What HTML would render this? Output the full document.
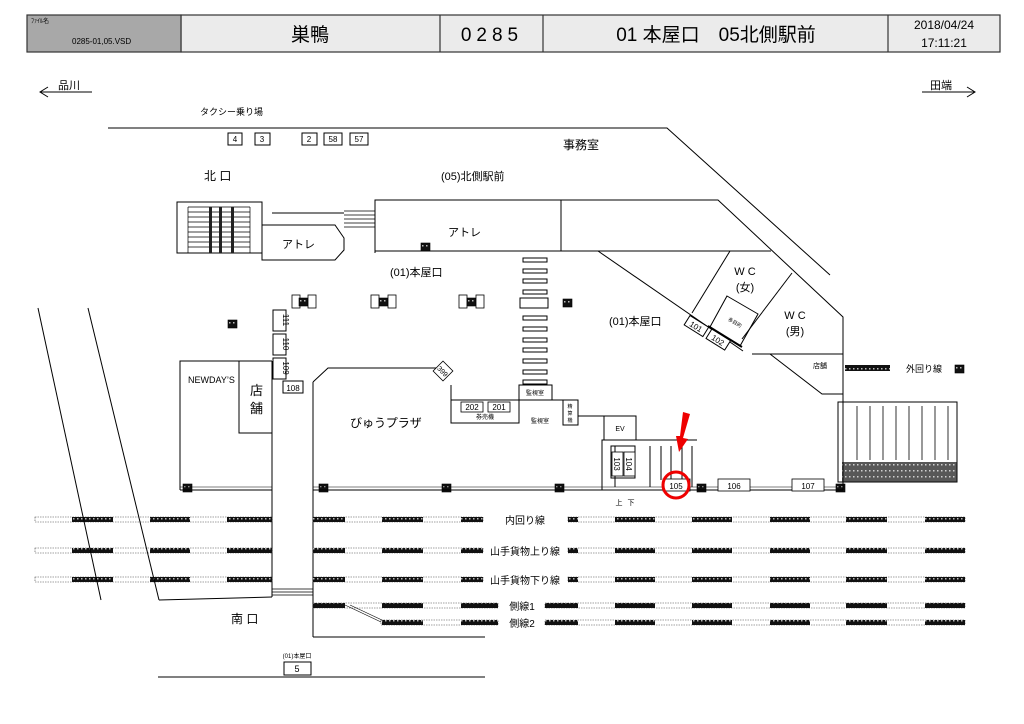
<!DOCTYPE html>
<html><head><meta charset="utf-8"><style>
html,body{margin:0;padding:0;background:#fff;}
svg{display:block;font-family:"Liberation Sans","Noto Sans CJK JP",sans-serif;}
</style></head><body>
<svg width="1024" height="724" viewBox="0 0 1024 724" xmlns="http://www.w3.org/2000/svg">
<defs>
<pattern id="hat" width="4" height="6" patternUnits="userSpaceOnUse"><rect width="4" height="6" fill="#111"/><rect x="1" y="2" width="1.5" height="1.5" fill="#bbb"/></pattern>
<g id="blk"><rect width="9" height="8" fill="url(#hat)" stroke="#000" stroke-width="0.6"/></g>
</defs>
<!-- header -->
<g stroke="#333" stroke-width="1.2">
<rect x="181" y="15" width="819" height="37" fill="#ebebeb"/>
<rect x="27" y="15" width="154" height="37" fill="#a8a8a8"/>
<line x1="440" y1="15" x2="440" y2="52"/><line x1="543" y1="15" x2="543" y2="52"/><line x1="888" y1="15" x2="888" y2="52"/>
</g>
<text x="31" y="23" font-size="6">ﾌｧｲﾙ名</text>
<text x="72" y="44" font-size="8">0285-01,05.VSD</text>
<text x="310" y="41" font-size="19" text-anchor="middle">巣鴨</text>
<text x="492" y="41" font-size="19" text-anchor="middle" letter-spacing="5">0285</text>
<text x="716" y="41" font-size="19" text-anchor="middle">01 本屋口　05北側駅前</text>
<text x="944" y="29" font-size="12" text-anchor="middle">2018/04/24</text>
<text x="944" y="47" font-size="12" text-anchor="middle">17:11:21</text>
<!-- direction -->
<g stroke="#000" stroke-width="1" fill="none">
<line x1="40" y1="92" x2="92" y2="92"/><polyline points="48,87 40,92 48,97"/>
<line x1="922" y1="92" x2="975" y2="92"/><polyline points="967,87 975,92 967,97"/>
</g>
<text x="58" y="89" font-size="11">品川</text>
<text x="930" y="89" font-size="11">田端</text>
<text x="200" y="115" font-size="9">タクシー乗り場</text>
<g stroke="#000" stroke-width="1" fill="none">
<polyline points="108,128 667,128 830,275"/>
<rect x="228" y="133" width="14" height="12"/><rect x="255" y="133" width="15" height="12"/>
<rect x="302" y="133" width="15" height="12"/><rect x="324" y="133" width="18" height="12"/><rect x="350" y="133" width="18" height="12"/>
</g>
<g font-size="8" text-anchor="middle"><text x="235" y="142">4</text><text x="262" y="142">3</text><text x="309" y="142">2</text><text x="333" y="142">58</text><text x="359" y="142">57</text></g>
<text x="563" y="149" font-size="12">事務室</text>
<text x="204" y="180" font-size="12">北 口</text>
<text x="441" y="180" font-size="11">(05)北側駅前</text>
<!-- north stair building -->
<g stroke="#000" stroke-width="1" fill="none">
<rect x="177" y="202" width="85" height="51"/>
<path d="M188 207H250M188 212H250M188 217H250M188 222H250M188 227H250M188 232H250M188 237H250M188 242H250M188 247H250M188 207V253M250 207V253" stroke-width="0.7"/>
<polygon points="262,225 335,225 344,238 344,250 335,260 262,260"/>
<line x1="272" y1="213" x2="344" y2="213"/>
<path d="M344 211H375M344 215H375M344 219H375M344 223H375M344 227H375" stroke-width="0.7"/>
<polyline points="375,253 375,200 718,200 843,317 843,400"/>
<line x1="375" y1="251" x2="771" y2="251"/>
<line x1="561" y1="200" x2="561" y2="251"/>
<line x1="598" y1="251" x2="743" y2="351"/>
<line x1="730" y1="251" x2="692" y2="313"/>
<line x1="792" y1="273" x2="742" y2="339"/>
<polygon points="727,296 758,314 740,346 710,327"/>
<line x1="752" y1="354" x2="843" y2="354"/>
<polyline points="770,354 822,394 843,394"/>
</g>
<rect x="209" y="207" width="3" height="46" fill="#222"/><rect x="219" y="207" width="3" height="46" fill="#222"/><rect x="231" y="207" width="3" height="46" fill="#222"/>
<text x="282" y="248" font-size="11">アトレ</text>
<text x="448" y="236" font-size="11">アトレ</text>
<text x="390" y="276" font-size="11">(01)本屋口</text>
<text x="609" y="325" font-size="11">(01)本屋口</text>
<text x="745" y="275" font-size="11" text-anchor="middle">W C</text><text x="745" y="291" font-size="11" text-anchor="middle">(女)</text>
<text x="795" y="319" font-size="11" text-anchor="middle">W C</text><text x="795" y="335" font-size="11" text-anchor="middle">(男)</text>
<text x="734" y="324" font-size="5" transform="rotate(30 734 324)" text-anchor="middle">多目的</text>
<text x="820" y="368" font-size="7" text-anchor="middle">店舗</text>
<g transform="rotate(32 697 327)"><rect x="685" y="321" width="22" height="11" fill="#fff" stroke="#000"/><text x="696" y="330" font-size="8" text-anchor="middle">101</text></g>
<g transform="rotate(32 718 340)"><rect x="707" y="334" width="22" height="11" fill="#fff" stroke="#000"/><text x="718" y="343" font-size="8" text-anchor="middle">102</text></g>
<line x1="708" y1="326" x2="742" y2="347" stroke="#000" stroke-width="2"/>
<!-- blocks -->
<use href="#blk" x="421" y="243"/><use href="#blk" x="563" y="299"/><use href="#blk" x="228" y="320"/>
<use href="#blk" x="183" y="484"/><use href="#blk" x="319" y="484"/><use href="#blk" x="442" y="484"/><use href="#blk" x="555" y="484"/>
<use href="#blk" x="697" y="484"/><use href="#blk" x="836" y="484"/><use href="#blk" x="955" y="365"/>
<!-- gate pairs -->
<g stroke="#000" stroke-width="0.8" font-size="6">
<g><rect x="292" y="295" width="8" height="13" fill="#fff"/><use href="#blk" x="299" y="298"/><rect x="308" y="295" width="8" height="13" fill="#fff"/></g>
<g><rect x="371" y="295" width="8" height="13" fill="#fff"/><use href="#blk" x="379" y="298"/><rect x="388" y="295" width="8" height="13" fill="#fff"/></g>
<g><rect x="459" y="295" width="8" height="13" fill="#fff"/><use href="#blk" x="467" y="298"/><rect x="476" y="295" width="8" height="13" fill="#fff"/></g>
</g>
<!-- crosswalk -->
<g stroke="#000" stroke-width="1" fill="none">
<rect x="523" y="258" width="24" height="4"/><rect x="523" y="269" width="24" height="4"/><rect x="523" y="279" width="24" height="4"/><rect x="523" y="290" width="24" height="4"/>
<rect x="520" y="298" width="28" height="10"/>
<rect x="523" y="316" width="24" height="4"/><rect x="523" y="327" width="24" height="4"/><rect x="523" y="338" width="24" height="4"/><rect x="523" y="348" width="24" height="4"/><rect x="523" y="359" width="24" height="4"/><rect x="523" y="370" width="24" height="4"/><rect x="523" y="380" width="24" height="4"/>
</g>
<!-- 109-111 -->
<g stroke="#000" stroke-width="1" fill="#fff">
<rect x="273" y="310" width="13" height="21"/><rect x="273" y="334" width="13" height="21"/><rect x="273" y="358" width="13" height="21"/><rect x="283" y="381" width="20" height="12"/>
</g>
<g font-size="8" text-anchor="middle">
<text transform="translate(283,320) rotate(90)">111</text><text transform="translate(283,344) rotate(90)">110</text><text transform="translate(283,368) rotate(90)">109</text><text x="293" y="391">108</text>
</g>
<!-- NEWDAYS and concourse -->
<g stroke="#000" stroke-width="1" fill="none">
<polyline points="180,490 180,361 272,361"/>
<polyline points="239,361 239,433 272,433"/>
<line x1="272" y1="361" x2="272" y2="597"/>
<line x1="313" y1="637" x2="313" y2="382"/>
<polyline points="313,382 328,368 438,368"/>
<polyline points="451,385 451,423 519,423 519,400"/>
<line x1="451" y1="400" x2="563" y2="400"/>
<rect x="519" y="385" width="33" height="15"/>
<rect x="563" y="400" width="15" height="25"/>
<line x1="578" y1="416" x2="604" y2="416"/>
<rect x="604" y="416" width="32" height="24"/>
<polyline points="602,490 602,440 697,440"/>
<line x1="615" y1="446" x2="615" y2="487"/><line x1="650" y1="446" x2="650" y2="487"/><line x1="661" y1="446" x2="661" y2="480"/><line x1="671" y1="446" x2="671" y2="480"/><line x1="682" y1="446" x2="682" y2="480"/><line x1="692" y1="446" x2="692" y2="487"/>
<rect x="611" y="446" width="24" height="32"/>
<line x1="180" y1="490" x2="272" y2="490"/><line x1="313" y1="490" x2="843" y2="490"/>
<line x1="180" y1="487" x2="272" y2="487" stroke-width="0.6"/><line x1="313" y1="487" x2="843" y2="487" stroke-width="0.6"/>
<rect x="838" y="402" width="119" height="80"/>
<path d="M857 406V460M870 406V460M883 406V460M896 406V460M909 406V460M922 406V460M935 406V460M948 406V460" stroke-width="0.8"/>
<line x1="843" y1="394" x2="843" y2="490"/>
</g>
<rect x="842" y="462" width="115" height="20" fill="url(#hat)" opacity="0.7"/>
<rect x="845" y="365" width="45" height="6" fill="url(#hat)"/>
<text x="906" y="372" font-size="9">外回り線</text>
<g stroke="#000" stroke-width="0.8" fill="#fff">
<rect x="612" y="452" width="11" height="24"/><rect x="624" y="452" width="11" height="24"/>
<rect x="663" y="479" width="27" height="12"/><rect x="718" y="479" width="32" height="12"/><rect x="792" y="479" width="32" height="12"/>
<rect x="461" y="402" width="22" height="10"/><rect x="488" y="402" width="22" height="10"/>
<rect x="436" y="364" width="14" height="14" transform="rotate(45 443 371)"/>
</g>
<g font-size="8" text-anchor="middle">
<text transform="translate(614,464) rotate(90)">103</text><text transform="translate(626,464) rotate(90)">104</text>
<text x="676" y="489">105</text><text x="734" y="489">106</text><text x="808" y="489">107</text>
<text x="472" y="410">202</text><text x="499" y="410">201</text>
<text x="443" y="374" font-size="7" transform="rotate(45 443 371)">399</text>
<text x="485" y="419" font-size="6">券売機</text>
<text x="535" y="395" font-size="6">監視室</text>
<text x="540" y="423" font-size="6">監視室</text>
<text x="570" y="408" font-size="5">精</text><text x="570" y="415" font-size="5">算</text><text x="570" y="422" font-size="5">機</text>
<text x="620" y="431" font-size="7">EV</text>
<text x="619" y="505" font-size="7">上</text><text x="631" y="505" font-size="7">下</text>
</g>
<text x="188" y="383" font-size="9">NEWDAY’S</text>
<text x="250" y="395" font-size="13">店</text><text x="250" y="413" font-size="13">舗</text>
<text x="350" y="427" font-size="12">びゅうプラザ</text>
<!-- red marker -->
<polygon points="683,412 690,414 683,438 688,439 679,452 676,436 680,436" fill="#e00"/>
<circle cx="676" cy="485" r="13" fill="none" stroke="#e00" stroke-width="3"/>
<!-- tracks -->
<g id="tr" stroke="#444" stroke-width="0.6" stroke-dasharray="1.5,1" fill="none">
<rect x="35" y="517" width="237" height="5"/><rect x="313" y="517" width="170" height="5"/><rect x="568" y="517" width="397" height="5"/>
<rect x="35" y="548" width="237" height="5"/><rect x="313" y="548" width="170" height="5"/><rect x="568" y="548" width="397" height="5"/>
<rect x="35" y="577" width="237" height="5"/><rect x="313" y="577" width="170" height="5"/><rect x="568" y="577" width="397" height="5"/>
<rect x="313" y="603" width="185" height="5"/><rect x="545" y="603" width="420" height="5"/>
<rect x="381" y="620" width="117" height="5"/><rect x="545" y="620" width="420" height="5"/>
</g>
<g fill="url(#hat)">
<path d="M72 517h41v5h-41zM150 517h40v5h-40zM227 517h45v5h-45zM313 517h32v5h-32zM382 517h41v5h-41zM461 517h22v5h-22zM568 517h10v5h-10zM615 517h40v5h-40zM692 517h40v5h-40zM770 517h40v5h-40zM846 517h41v5h-41zM925 517h40v5h-40z"/>
<path d="M72 548h41v5h-41zM150 548h40v5h-40zM227 548h45v5h-45zM313 548h32v5h-32zM382 548h41v5h-41zM461 548h22v5h-22zM568 548h10v5h-10zM615 548h40v5h-40zM692 548h40v5h-40zM770 548h40v5h-40zM846 548h41v5h-41zM925 548h40v5h-40z"/>
<path d="M72 577h41v5h-41zM150 577h40v5h-40zM227 577h45v5h-45zM313 577h32v5h-32zM382 577h41v5h-41zM461 577h22v5h-22zM568 577h10v5h-10zM615 577h40v5h-40zM692 577h40v5h-40zM770 577h40v5h-40zM846 577h41v5h-41zM925 577h40v5h-40z"/>
<path d="M313 603h32v5h-32zM382 603h41v5h-41zM461 603h37v5h-37zM545 603h33v5h-33zM615 603h40v5h-40zM692 603h40v5h-40zM770 603h40v5h-40zM846 603h41v5h-41zM925 603h40v5h-40z"/>
<path d="M382 620h41v5h-41zM461 620h37v5h-37zM545 620h33v5h-33zM615 620h40v5h-40zM692 620h40v5h-40zM770 620h40v5h-40zM846 620h41v5h-41zM925 620h40v5h-40z"/>
</g>
<g stroke="#000" stroke-width="0.6" fill="none"><line x1="345" y1="605" x2="381" y2="622"/><line x1="350" y1="605" x2="384" y2="621"/></g>
<g font-size="10" text-anchor="middle">
<text x="525" y="524">内回り線</text><text x="525" y="555">山手貨物上り線</text><text x="525" y="584">山手貨物下り線</text>
<text x="522" y="610">側線1</text><text x="522" y="627">側線2</text>
</g>
<!-- south -->
<g stroke="#000" stroke-width="1" fill="none">
<line x1="38" y1="308" x2="101" y2="600"/><line x1="88" y1="308" x2="159" y2="600"/>
<line x1="159" y1="600" x2="272" y2="597"/>
<path d="M272 589H313M272 592H313M272 595H313" stroke-width="0.7"/>
<line x1="313" y1="637" x2="485" y2="637"/>
<rect x="284" y="662" width="27" height="13"/>
<line x1="158" y1="677" x2="485" y2="677"/>
</g>
<text x="231" y="623" font-size="12">南 口</text>
<text x="297" y="658" font-size="6" text-anchor="middle">(01)本屋口</text>
<text x="297" y="672" font-size="9" text-anchor="middle">5</text>
</svg>
</body></html>
